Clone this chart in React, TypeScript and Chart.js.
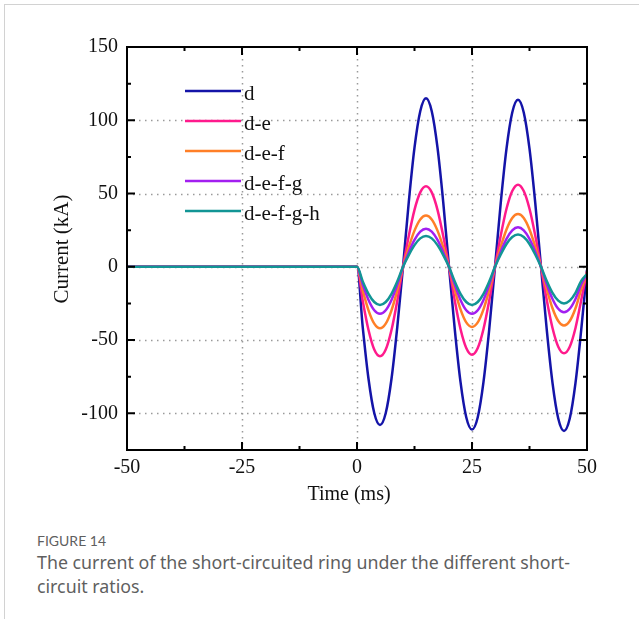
import React, { useEffect, useRef } from 'react';
import { Chart, registerables } from 'chart.js';

Chart.register(...registerables);

// ---- data ----
const SERIES_NAMES = ['d', 'd-e', 'd-e-f', 'd-e-f-g', 'd-e-f-g-h'];
const SERIES_COLORS = ['#1414a8', '#ff1a8c', '#ff7f27', '#a21ff0', '#129595'];

const TIME_MS = [
  -50, 0, 1.25, 2.5, 3.75, 5, 6.25, 7.5, 8.75, 10, 11.25, 12.5, 13.75, 15, 16.25, 17.5, 18.75, 20,
  21.25, 22.5, 23.75, 25, 26.25, 27.5, 28.75, 30, 31.25, 32.5, 33.75, 35, 36.25, 37.5, 38.75, 40,
  41.25, 42.5, 43.75, 45, 46.25, 47.5, 48.75, 50,
];

const D = [
  0, 0, -41.3, -76.4, -99.8, -108, -99.8, -76.4, -41.3, 0, 44.0, 81.3, 106.2, 115, 106.2, 81.3, 44.0, 0,
  -42.5, -78.5, -102.6, -111, -102.6, -78.5, -42.5, 0, 43.6, 80.6, 105.3, 114, 105.3, 80.6, 43.6, 0,
  -42.9, -79.2, -103.5, -112, -103.5, -79.2, -42.9, -2,
];
const DE = [
  0, 0, -23.3, -43.1, -56.4, -61, -56.4, -43.1, -23.3, 0, 21.0, 38.9, 50.8, 55, 50.8, 38.9, 21.0, 0,
  -23.0, -42.4, -55.4, -60, -55.4, -42.4, -23.0, 0, 21.4, 39.6, 51.7, 56, 51.7, 39.6, 21.4, 0,
  -22.6, -41.7, -54.5, -59, -54.5, -41.7, -22.6, -3,
];
const DEF = [
  0, 0, -16.1, -29.7, -38.8, -42, -38.8, -29.7, -16.1, 0, 13.4, 24.7, 32.3, 35, 32.3, 24.7, 13.4, 0,
  -15.7, -29.0, -37.9, -41, -37.9, -29.0, -15.7, 0, 13.8, 25.5, 33.3, 36, 33.3, 25.5, 13.8, 0,
  -15.3, -28.3, -37.0, -40, -37.0, -28.3, -15.3, -4,
];
const DEFG = [
  0, 0, -12.2, -22.6, -29.6, -32, -29.6, -22.6, -12.2, 0, 10.0, 18.4, 24.0, 26, 24.0, 18.4, 10.0, 0,
  -12.2, -22.6, -29.6, -32, -29.6, -22.6, -12.2, 0, 10.3, 19.1, 24.9, 27, 24.9, 19.1, 10.3, 0,
  -11.9, -21.9, -28.6, -31, -28.6, -21.9, -11.9, -5,
];
const DEFGH = [
  0, 0, -10.0, -18.4, -24.0, -26, -24.0, -18.4, -10.0, 0, 8.0, 14.8, 19.4, 21, 19.4, 14.8, 8.0, 0,
  -10.0, -18.4, -24.0, -26, -24.0, -18.4, -10.0, 0, 8.4, 15.6, 20.3, 22, 20.3, 15.6, 8.4, 0,
  -9.6, -17.7, -23.1, -25, -23.1, -17.7, -9.6, -5,
];
const SERIES_VALUES = [D, DE, DEF, DEFG, DEFGH];

const X_TICKS = [-50, -25, 0, 25, 50];
const X_MINOR = [-37.5, -12.5, 12.5, 37.5];
const Y_TICKS = [-100, -50, 0, 50, 100, 150];
const Y_MINOR = [-125, -75, -25, 25, 75, 125];
const X_GRID = [-25, 0, 25];
const Y_GRID = [-100, -50, 0, 50, 100];

const X_TITLE = 'Time (ms)';
const Y_TITLE = 'Current (kA)';

const SERIF = '"Liberation Serif", "Times New Roman", serif';
const TEXT = '#111';

const framePlugin = {
  id: 'frame',
  beforeDatasetsDraw(chart: any) {
    const { ctx, chartArea: a, scales } = chart;
    ctx.save();
    ctx.strokeStyle = '#9a9a9a';
    ctx.lineWidth = 1.5;
    ctx.setLineDash([1.5, 4.5]);
    X_GRID.forEach((v) => {
      const x = Math.round(scales.x.getPixelForValue(v)) + 0.5;
      ctx.beginPath();
      ctx.moveTo(x, a.top);
      ctx.lineTo(x, a.bottom);
      ctx.stroke();
    });
    Y_GRID.forEach((v) => {
      const y = Math.round(scales.y.getPixelForValue(v)) + 0.5;
      ctx.beginPath();
      ctx.moveTo(a.left, y);
      ctx.lineTo(a.right, y);
      ctx.stroke();
    });
    ctx.restore();
  },
  afterDatasetsDraw(chart: any) {
    const { ctx, chartArea: a, scales } = chart;
    ctx.save();
    ctx.strokeStyle = '#000';
    ctx.lineWidth = 2;
    ctx.strokeRect(a.left, a.top, a.right - a.left, a.bottom - a.top);
    const tickX = (v: number, len: number) => {
      const x = scales.x.getPixelForValue(v);
      ctx.beginPath();
      ctx.moveTo(x, a.bottom);
      ctx.lineTo(x, a.bottom - len);
      ctx.moveTo(x, a.top);
      ctx.lineTo(x, a.top + len);
      ctx.stroke();
    };
    const tickY = (v: number, len: number) => {
      const y = scales.y.getPixelForValue(v);
      ctx.beginPath();
      ctx.moveTo(a.left, y);
      ctx.lineTo(a.left + len, y);
      ctx.moveTo(a.right, y);
      ctx.lineTo(a.right - len, y);
      ctx.stroke();
    };
    X_TICKS.forEach((v) => tickX(v, 8));
    X_MINOR.forEach((v) => tickX(v, 4));
    Y_TICKS.forEach((v) => tickY(v, 8));
    Y_MINOR.forEach((v) => tickY(v, 4));
    ctx.restore();
  },
  afterDraw(chart: any) {
    const { ctx } = chart;
    ctx.save();
    // legend
    SERIES_NAMES.forEach((name, i) => {
      const y = 91 + 30 * i;
      ctx.strokeStyle = SERIES_COLORS[i];
      ctx.lineWidth = 2.5;
      ctx.beginPath();
      ctx.moveTo(185, y);
      ctx.lineTo(241, y);
      ctx.stroke();
      ctx.fillStyle = TEXT;
      ctx.font = `21px ${SERIF}`;
      ctx.textAlign = 'left';
      ctx.textBaseline = 'middle';
      ctx.fillText(name, 244, y + 3);
    });
    // axis titles
    ctx.fillStyle = TEXT;
    ctx.font = `20px ${SERIF}`;
    ctx.textAlign = 'center';
    ctx.textBaseline = 'middle';
    ctx.fillText(X_TITLE, 349, 495);
    ctx.translate(62, 249);
    ctx.rotate(-Math.PI / 2);
    ctx.font = `21px ${SERIF}`;
    ctx.fillText(Y_TITLE, 0, 0);
    ctx.restore();
  },
};

export default function App() {
  const ref = useRef<HTMLCanvasElement>(null);

  useEffect(() => {
    const datasets = SERIES_NAMES.map((name, i) => ({
      label: name,
      data: TIME_MS.map((t, k) => ({ x: t, y: SERIES_VALUES[i][k] })),
      borderColor: SERIES_COLORS[i],
      backgroundColor: SERIES_COLORS[i],
      borderWidth: 2.5,
      pointRadius: 0,
      fill: false,
      cubicInterpolationMode: 'monotone' as const,
      order: SERIES_NAMES.length - 1 - i,
    }));

    const chart = new Chart(ref.current as HTMLCanvasElement, {
      type: 'line',
      data: { datasets },
      options: {
        responsive: false,
        animation: false,
        layout: { padding: { left: 0, top: 47, right: 52, bottom: 0 } },
        plugins: { legend: { display: false }, tooltip: { enabled: false } },
        scales: {
          x: {
            type: 'linear',
            min: -50,
            max: 50,
            grid: { display: false, drawTicks: false },
            border: { display: false },
            afterBuildTicks: (s: any) => {
              s.ticks = X_TICKS.map((v) => ({ value: v }));
            },
            afterFit: (s: any) => {
              s.height = 70;
            },
            ticks: {
              padding: 6,
              color: TEXT,
              font: { family: SERIF, size: 20 },
              maxRotation: 0,
              autoSkip: false,
            },
          },
          y: {
            type: 'linear',
            min: -125,
            max: 150,
            grid: { display: false, drawTicks: false },
            border: { display: false },
            afterBuildTicks: (s: any) => {
              s.ticks = Y_TICKS.map((v) => ({ value: v }));
            },
            afterFit: (s: any) => {
              s.width = 127;
            },
            ticks: {
              padding: 9,
              color: TEXT,
              font: { family: SERIF, size: 20 },
              autoSkip: false,
            },
          },
        },
      },
      plugins: [framePlugin],
    });
    return () => chart.destroy();
  }, []);

  return (
    <div
      style={{
        position: 'absolute',
        left: 0,
        top: 0,
        width: 639,
        height: 619,
        background: '#fff',
        overflow: 'hidden',
      }}
    >
      <div
        style={{
          position: 'absolute',
          left: 4,
          top: 4,
          right: 0,
          bottom: 0,
          borderTop: '1px solid #d2d2d2',
          borderLeft: '1px solid #d2d2d2',
        }}
      />
      <canvas
        ref={ref}
        width={639}
        height={520}
        style={{ position: 'absolute', left: 0, top: 0, width: 639, height: 520 }}
      />
      <div
        style={{
          position: 'absolute',
          left: 37,
          top: 532,
          color: '#5f5f5f',
          whiteSpace: 'nowrap',
        }}
      >
        <div style={{ fontFamily: 'Lato, sans-serif', fontSize: 14, lineHeight: '18px' }}>FIGURE 14</div>
        <div style={{ fontFamily: '"Noto Sans", sans-serif', fontSize: 17.8, lineHeight: '24px' }}>
          The current of the short-circuited ring under the different short-
        </div>
        <div style={{ fontFamily: '"Noto Sans", sans-serif', fontSize: 17.8, lineHeight: '24px' }}>
          circuit ratios.
        </div>
      </div>
    </div>
  );
}
